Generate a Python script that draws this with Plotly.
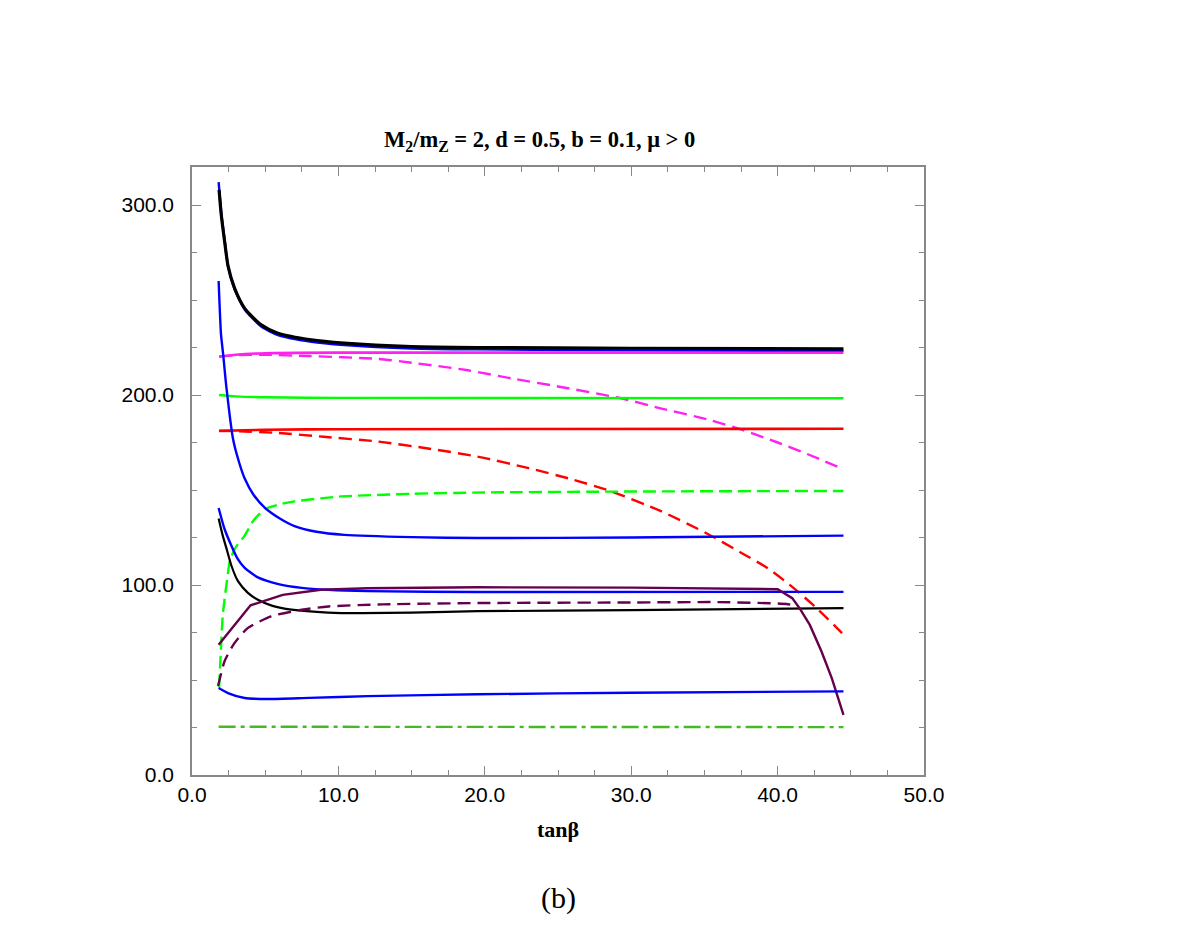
import plotly.graph_objects as go

# tan(beta) grids and masses
x_blk_hi = [1.85, 2.0, 2.23, 2.46, 2.92, 3.6, 4.73, 5.87, 8.15, 10.4, 15, 19.5, 30, 44.5]
y_blk_hi = [308, 294.7, 280.7, 268, 256, 245.6, 236.9, 232.5, 229, 227.3, 225.5, 225, 224.6, 224.3]

x_blu_hi = [1.82, 2.0, 2.23, 2.46, 2.92, 3.6, 4.73, 5.87, 8.15, 10.4, 15, 19.5, 30, 44.5]
y_blu_hi = [312, 296, 281.5, 268, 255.5, 245, 236, 231.5, 228, 226.3, 224.5, 224, 223.5, 223.2]

x_mag = [1.85, 3, 5, 10, 20, 44.5]
y_mag = [220.2, 221.2, 222, 222.3, 222.3, 222.2]

x_mag_d = [1.85, 3, 5, 8, 12.7, 15, 18.85, 22, 25, 29.3, 32, 35.3, 37.6, 40, 42, 44.5]
y_mag_d = [220.2, 221, 221.2, 220.5, 219, 217, 213, 208.5, 204.5, 198.3, 193, 187, 181.6, 175, 169, 161]

x_grn = [1.85, 3, 5, 10, 44.5]
y_grn = [200, 199.3, 198.8, 198.5, 198.3]

x_red = [1.85, 5, 10, 44.5]
y_red = [181.1, 181.7, 182, 182.2]

x_red_d = [1.85, 3, 5.9, 9, 12.7, 16, 19.5, 23, 26, 28.6, 32, 35.2, 37.5, 39.3, 41, 42.5, 44.4]
y_red_d = [181.1, 181, 180, 178, 175.5, 172, 167.6, 161.5, 155.5, 149.4, 139, 127, 117, 109, 99, 89, 74.7]

x_grn_d = [1.85, 1.95, 2.1, 2.35, 2.6, 3.0, 3.6, 4.2, 5, 6, 7, 10, 15, 20, 30, 44.5]
y_grn_d = [46, 62, 84, 100, 113, 120, 126, 134, 140, 142.5, 144, 146.5, 148, 148.7, 149.2, 149.5]

x_blu_mid = [1.82, 1.98, 2.12, 2.35, 2.8, 3.2, 3.6, 4.2, 5, 6, 7, 8.5, 10.4, 15, 19.5, 30, 44.5]
y_blu_mid = [260, 232, 222, 204, 177, 165, 156, 147.5, 140.5, 135, 131, 128, 126.4, 125.2, 124.7, 125, 126]

x_blu_100 = [1.82, 2.2, 2.67, 3.1, 3.6, 4.5, 5.9, 7.5, 9.3, 12, 19.5, 44.5]
y_blu_100 = [140.5, 130, 121, 114, 109, 104, 100.5, 98.5, 97.5, 96.8, 96.3, 96.4]

x_blk_lo = [1.82, 2.1, 2.35, 2.7, 3.14, 3.8, 4.5, 5.5, 6.8, 9.3, 11.6, 15, 19.5, 30, 44.5]
y_blk_lo = [135, 126, 119.4, 110, 102, 96, 92.2, 89, 87, 85.5, 85.2, 85.5, 86.2, 86.8, 87.8]

x_pur = [1.82, 4.0, 6.2, 8.8, 12, 19.5, 30, 35.9, 40, 41, 41.5, 42.2, 43, 43.7, 44.5]
y_pur = [68.5, 89.3, 94.8, 97.5, 98.3, 98.8, 98.6, 98.2, 97.8, 93.1, 87.8, 79, 65, 51, 31.7]

x_pur_d = [1.78, 2.23, 2.9, 3.8, 5.4, 7.5, 9.3, 13, 19.5, 30, 35.9, 40.6, 41.1]
y_pur_d = [46.8, 60, 69.4, 77.3, 83.5, 87, 88.7, 89.8, 90.5, 90.8, 91, 90, 89.3]

x_blu_lo = [1.82, 2.5, 3.6, 5.2, 8, 12, 19.5, 30, 44.5]
y_blu_lo = [45.8, 43, 40.5, 40, 40.6, 41.5, 42.5, 43.3, 44]

x_dd = [1.82, 44.5]
y_dd = [25.4, 25.2]

x_ticks = [0, 10, 20, 30, 40, 50]
y_ticks = [0, 100, 200, 300]

PUR = "#66004D"

# (x, y, colour, dash, width, shape)
curves = [
    (x_blu_hi, y_blu_hi, "#0000FF", "solid", 2.4, "spline"),
    (x_blk_hi, y_blk_hi, "#000000", "solid", 3.2, "spline"),
    (x_mag_d, y_mag_d, "#FF22EE", "13px,7px", 2.4, "spline"),
    (x_mag, y_mag, "#FF22EE", "solid", 2.6, "spline"),
    (x_grn, y_grn, "#00FF00", "solid", 2.4, "spline"),
    (x_red_d, y_red_d, "#FF0000", "13px,7px", 2.4, "spline"),
    (x_red, y_red, "#FF0000", "solid", 2.6, "spline"),
    (x_grn_d, y_grn_d, "#00FF00", "13px,6px", 2.4, "spline"),
    (x_blu_mid, y_blu_mid, "#0000FF", "solid", 2.4, "spline"),
    (x_blu_100, y_blu_100, "#0000FF", "solid", 2.4, "spline"),
    (x_blk_lo, y_blk_lo, "#000000", "solid", 2.2, "spline"),
    (x_pur_d, y_pur_d, PUR, "13px,7px", 2.4, "spline"),
    (x_pur, y_pur, PUR, "solid", 2.4, "linear"),
    (x_blu_lo, y_blu_lo, "#0000FF", "solid", 2.4, "spline"),
    (x_dd, y_dd, "#44BB22", "17px,5px,4px,5px", 2.4, "linear"),
]

fig = go.Figure()
for xs, ys, col, dash, w, shape in curves:
    line = dict(color=col, dash=dash, width=w, shape=shape)
    if shape == "spline":
        line["smoothing"] = 0.6
    fig.add_trace(go.Scatter(x=xs, y=ys, mode="lines", line=line, showlegend=False))

axis_style = dict(
    showline=True, linecolor="#888888", linewidth=1.5, mirror="allticks",
    ticks="inside", ticklen=9, tickwidth=1.2, tickcolor="#888888",
    showgrid=False, zeroline=False,
    tickfont=dict(family="Liberation Sans, Arial", size=21, color="black"),
)

fig.update_xaxes(
    range=[0, 50], tickvals=x_ticks, ticktext=[f"{v:.1f}" for v in x_ticks],
    minor=dict(dtick=2.5, ticks="inside", ticklen=5, tickcolor="#888888"),
    ticklabelstandoff=0, **axis_style
)
fig.update_yaxes(
    range=[0, 320], tickvals=y_ticks, ticktext=[f"{v:.1f}" for v in y_ticks],
    minor=dict(dtick=25, ticks="inside", ticklen=5, tickcolor="#888888"),
    ticklabelstandoff=12, **axis_style
)

serif = "Liberation Serif, Times New Roman"
fig.add_annotation(
    text="<b>M<sub>2</sub>/m<sub>Z</sub> = 2, d = 0.5, b = 0.1, μ &gt; 0</b>",
    xref="paper", yref="paper", x=0.475, y=1.043, yanchor="middle", showarrow=False,
    font=dict(family=serif, size=22.5, color="black"),
)
fig.add_annotation(
    text="<b>tanβ</b>", xref="paper", yref="paper", x=0.5, y=-0.089, yanchor="middle",
    showarrow=False, font=dict(family=serif, size=22, color="black"),
)
fig.add_annotation(
    text="(b)", xref="paper", yref="paper", x=0.5, y=-0.2023, yanchor="middle",
    showarrow=False, font=dict(family=serif, size=30, color="black"),
)

fig.update_layout(
    width=1199, height=926,
    margin=dict(l=184, r=283, t=159, b=159),
    plot_bgcolor="white", paper_bgcolor="white",
)

fig.write_html("out.html")
